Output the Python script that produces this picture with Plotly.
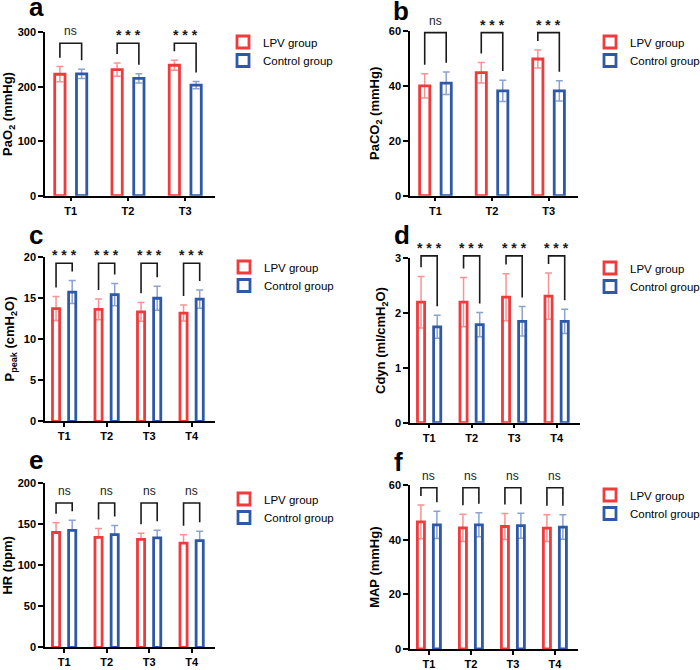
import plotly.graph_objects as go

# ---------------- data ----------------
cats3 = ["T1", "T2", "T3"]
cats4 = ["T1", "T2", "T3", "T4"]
groups = ["LPV group", "Control group"]

pao2_lpv = [223, 231.5, 239.5]
pao2_lpv_sd = [14, 12, 9]
pao2_ctl = [223.5, 215.5, 203]
pao2_ctl_sd = [8.5, 8.5, 6.5]
pao2_sig = ["ns", "***", "***"]

paco2_lpv = [40, 44.8, 49.8]
paco2_lpv_sd = [4.4, 3.7, 3.3]
paco2_ctl = [41, 38.2, 38.2]
paco2_ctl_sd = [4.1, 3.9, 3.7]
paco2_sig = ["ns", "***", "***"]

ppeak_lpv = [13.7, 13.6, 13.3, 13.15]
ppeak_lpv_sd = [1.45, 1.25, 1.15, 0.97]
ppeak_ctl = [15.7, 15.4, 14.95, 14.85]
ppeak_ctl_sd = [1.4, 1.35, 1.45, 1.1]
ppeak_sig = ["***", "***", "***", "***"]

cdyn_lpv = [2.2, 2.2, 2.29, 2.31]
cdyn_lpv_sd = [0.47, 0.45, 0.43, 0.42]
cdyn_ctl = [1.75, 1.79, 1.85, 1.85]
cdyn_ctl_sd = [0.21, 0.22, 0.27, 0.22]
cdyn_sig = ["***", "***", "***", "***"]

hr_lpv = [140, 134, 131.5, 127]
hr_lpv_sd = [12, 11, 7.5, 10.2]
hr_ctl = [142.5, 137.5, 133.5, 130]
hr_ctl_sd = [12.5, 11, 9.3, 11.5]
hr_sig = ["ns", "ns", "ns", "ns"]

map_lpv = [46.6, 44.4, 44.9, 44.3]
map_lpv_sd = [6.2, 5.0, 4.8, 4.9]
map_ctl = [45.5, 45.5, 45.2, 44.7]
map_ctl_sd = [5.0, 4.4, 4.6, 4.5]
map_sig = ["ns", "ns", "ns", "ns"]

ticks_a = [0, 100, 200, 300]
ticks_b = [0, 20, 40, 60]
ticks_c = [0, 5, 10, 15, 20]
ticks_d = [0, 1, 2, 3]
ticks_e = [0, 50, 100, 150, 200]
ticks_f = [0, 20, 40, 60]

# ---------------- styling ----------------
W, H = 700, 670
RED = "#F03A3C"
BLUE = "#2E58A8"
RED_E = "rgba(240,58,60,0.55)"
BLUE_E = "rgba(46,88,168,0.55)"
FONT = "Liberation Sans, Arial, Helvetica, sans-serif"

panels = [
    dict(letter="a", cats=cats3, lpv=pao2_lpv, lsd=pao2_lpv_sd, ctl=pao2_ctl, csd=pao2_ctl_sd,
         sig=pao2_sig, ticks=ticks_a, title="PaO<sub>2</sub> (mmHg)", up_only=False,
         xpx=(45, 215), ypx=(32.3, 195.7)),
    dict(letter="b", cats=cats3, lpv=paco2_lpv, lsd=paco2_lpv_sd, ctl=paco2_ctl, csd=paco2_ctl_sd,
         sig=paco2_sig, ticks=ticks_b, title="PaCO<sub>2</sub> (mmHg)", up_only=False,
         xpx=(410, 578), ypx=(31, 195.7)),
    dict(letter="c", cats=cats4, lpv=ppeak_lpv, lsd=ppeak_lpv_sd, ctl=ppeak_ctl, csd=ppeak_ctl_sd,
         sig=ppeak_sig, ticks=ticks_c, title="P<sub>peak</sub> (cmH<sub>2</sub>O)", up_only=False,
         xpx=(45, 215), ypx=(256.7, 421.3)),
    dict(letter="d", cats=cats4, lpv=cdyn_lpv, lsd=cdyn_lpv_sd, ctl=cdyn_ctl, csd=cdyn_ctl_sd,
         sig=cdyn_sig, ticks=ticks_d, title="Cdyn (ml/cmH<sub>2</sub>O)", up_only=False,
         xpx=(410, 580), ypx=(258.3, 422.7)),
    dict(letter="e", cats=cats4, lpv=hr_lpv, lsd=hr_lpv_sd, ctl=hr_ctl, csd=hr_ctl_sd,
         sig=hr_sig, ticks=ticks_e, title="HR (bpm)", up_only=True,
         xpx=(45, 215), ypx=(483.3, 647.3)),
    dict(letter="f", cats=cats4, lpv=map_lpv, lsd=map_lpv_sd, ctl=map_ctl, csd=map_ctl_sd,
         sig=map_sig, ticks=ticks_f, title="MAP (mmHg)", up_only=False,
         xpx=(410, 578), ypx=(485.3, 649)),
]

letter_pos = {"a": (36, 15), "b": (401, 19), "c": (36, 243), "d": (402, 243), "e": (36, 468), "f": (399, 470)}
# (text start x, first-row centre y) of each panel's legend, px
legend_pos = {"a": (263, 42), "b": (630, 42), "c": (264, 267), "d": (630, 268), "e": (264, 499), "f": (630, 495)}
ROW = 18.5

fig = go.Figure()
layout = dict(
    width=W, height=H, margin=dict(l=0, r=0, t=0, b=0, autoexpand=False),
    paper_bgcolor="white", plot_bgcolor="white",
    font=dict(family=FONT, color="black"),
    barmode="overlay", showlegend=True,
)
shapes, annotations = [], []
leg_idx = 0

for k, p in enumerate(panels):
    n = len(p["cats"])
    sfx = "" if k == 0 else str(k + 1)
    xa, ya = "x" + sfx, "y" + sfx
    off = 0.19
    bw = 0.18 if n == 3 else 0.168
    xmin, xmax = -0.45, (n - 1) + (0.52 if n == 3 else 0.55)
    ymax = p["ticks"][-1]
    xs = list(range(n))
    gx, gy = legend_pos[p["letter"]]

    for j, (name, vals, sd, col, ecol, sgn) in enumerate([
        (groups[0], p["lpv"], p["lsd"], RED, RED_E, -1),
        (groups[1], p["ctl"], p["csd"], BLUE, BLUE_E, 1),
    ]):
        leg_idx += 1
        leg = "legend" if leg_idx == 1 else f"legend{leg_idx}"
        err = dict(type="data", array=sd, color=ecol, thickness=1.5, width=3.5, visible=True)
        if p["up_only"]:
            err.update(symmetric=False, arrayminus=[0] * n)
        fig.add_trace(go.Bar(
            x=[x + sgn * off for x in xs], y=vals, width=bw, name=name,
            marker=dict(color="white", line=dict(color=col, width=2.8)),
            error_y=err, xaxis=xa, yaxis=ya, legend=leg, hoverinfo="skip",
        ))
        layout[leg] = dict(
            x=(gx - 40) / W, y=1 - (gy + j * ROW) / H, xref="paper", yref="paper",
            xanchor="left", yanchor="middle",
            bgcolor="rgba(0,0,0,0)", borderwidth=0,
            font=dict(size=11.5, family=FONT, color="black"),
            itemclick=False, itemdoubleclick=False,
        )

    # axes
    x0, x1 = p["xpx"]
    y0, y1 = p["ypx"]
    layout["xaxis" + sfx] = dict(
        domain=[x0 / W, x1 / W], anchor=ya, range=[xmin, xmax],
        tickvals=xs, ticktext=[f"<b>{c}</b>" for c in p["cats"]],
        ticks="outside", ticklen=4, tickwidth=1.5, tickcolor="black",
        showline=True, linecolor="black", linewidth=1.5, showgrid=False, zeroline=False,
        tickfont=dict(size=11, family=FONT, color="black"),
    )
    layout["yaxis" + sfx] = dict(
        domain=[1 - y1 / H, 1 - y0 / H], anchor=xa, range=[0, ymax],
        tickvals=p["ticks"], ticktext=[f"<b>{t}</b>" for t in p["ticks"]],
        ticks="outside", ticklen=5, tickwidth=1.5, tickcolor="black",
        showline=True, linecolor="black", linewidth=1.5, showgrid=False, zeroline=False,
        tickfont=dict(size=11, family=FONT, color="black"),
        title=dict(text=f"<b>{p['title']}</b>", font=dict(size=13, family=FONT, color="black"), standoff=6),
    )

    # significance brackets (computed from bar tops + errors)
    gap = 0.055 * ymax
    minleg = 0.05 * ymax
    lt = [v + s + gap for v, s in zip(p["lpv"], p["lsd"])]
    rt = [v + s + gap for v, s in zip(p["ctl"], p["csd"])]
    top = max(lt + rt) + minleg

    def fx(x):
        return (x - xmin) / (xmax - xmin)

    for i in range(n):
        xl, xr = fx(i - off), fx(i + off)
        path = f"M {xl},{lt[i] / ymax} L {xl},{top / ymax} L {xr},{top / ymax} L {xr},{rt[i] / ymax}"
        shapes.append(dict(type="path", path=path, xref=xa + " domain", yref=ya + " domain",
                           line=dict(color="#1a1a1a", width=1.6)))
        s = p["sig"][i]
        annotations.append(dict(
            x=i, y=top / ymax, xref=xa, yref=ya + " domain",
            text=("<b>* * *</b>" if s == "***" else s), showarrow=False,
            yanchor="bottom", xanchor="center",
            yshift=(-2 if s == "***" else 3),
            font=dict(size=(14 if s == "***" else 12), family=FONT, color="#1a1a1a"),
        ))

    # panel letter
    lx, ly = letter_pos[p["letter"]]
    annotations.append(dict(
        x=lx / W, y=1 - ly / H, xref="paper", yref="paper", text=f"<b>{p['letter']}</b>",
        showarrow=False, xanchor="center", yanchor="bottom", yshift=-9,
        font=dict(size=26, family=FONT, color="black"),
    ))

layout["shapes"] = shapes
layout["annotations"] = annotations
fig.update_layout(**layout)
fig.write_html("out.html")
